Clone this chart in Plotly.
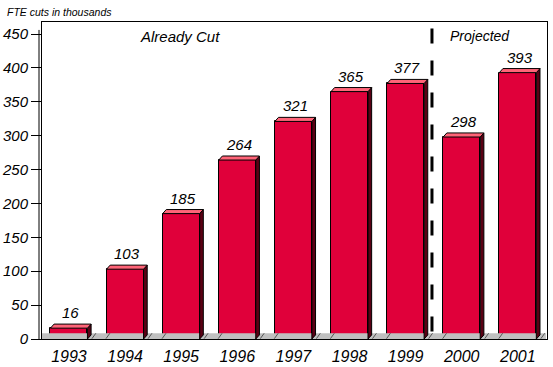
import plotly.graph_objects as go

years = ["1993", "1994", "1995", "1996", "1997", "1998", "1999", "2000", "2001"]
fte_cuts = [16, 103, 185, 264, 321, 365, 377, 298, 393]
y_ticks = [0, 50, 100, 150, 200, 250, 300, 350, 400, 450]

RED = "#E0003A"
TOP = "#FF6478"
SIDE = "#5A0014"
FONT = "Liberation Sans Narrow, Liberation Sans, Arial, sans-serif"

W = 0.66      # bar width (category units)
DX = 0.065    # 3D depth in x (category units)
DY = 6.0      # 3D depth in y (value units)

xs = list(range(len(years)))

fig = go.Figure()

# floor
fx = [-0.48, 8.5, 8.5, -0.48, -0.48]
fy = [0, 0, 8.5, 8.5, 0]
fig.add_trace(go.Scatter(x=fx, y=fy, fill="toself", fillcolor="#C0C0C0",
                         mode="lines", line=dict(color="#C0C0C0", width=0),
                         hoverinfo="skip", showlegend=False))
# floor slash marks
sx, sy = [], []
for c in xs:
    for off in (W / 2 + 0.13, W / 2 + 0.38):
        if c + off < 8.5:
            sx += [c + off - 0.05, c + off + 0.02, None]
            sy += [0.5, 8.5, None]
fig.add_trace(go.Scatter(x=sx, y=sy, mode="lines", line=dict(color="#555555", width=1),
                         hoverinfo="skip", showlegend=False))

# front faces
fig.add_trace(go.Bar(x=xs, y=fte_cuts, width=W, marker=dict(color=RED, line=dict(color="black", width=1)),
                     hoverinfo="skip", showlegend=False))

# side faces and top faces
side_x, side_y, top_x, top_y = [], [], [], []
for c, v in zip(xs, fte_cuts):
    l, r = c - W / 2, c + W / 2
    side_x += [r, r, r + DX, r + DX, r, None]
    side_y += [0, v, v + DY, DY, 0, None]
    top_x += [l, l + DX, r + DX, r, l, None]
    top_y += [v, v + DY, v + DY, v, v, None]
fig.add_trace(go.Scatter(x=side_x, y=side_y, fill="toself", fillcolor=SIDE, mode="lines",
                         line=dict(color="black", width=1), hoverinfo="skip", showlegend=False))
fig.add_trace(go.Scatter(x=top_x, y=top_y, fill="toself", fillcolor=TOP, mode="lines",
                         line=dict(color="black", width=1), hoverinfo="skip", showlegend=False))

# value labels
for c, v in zip(xs, fte_cuts):
    fig.add_annotation(x=c + DX / 2, y=v + DY, text=str(v), showarrow=False,
                       yanchor="bottom", yshift=1,
                       font=dict(family=FONT, size=15, color="black", style="italic"))

# divider
fig.add_shape(type="line", x0=6.47, x1=6.47, y0=458, y1=9,
              line=dict(color="black", width=3, dash="15px,17px"))

fig.add_annotation(x=1.98, y=446, text="Already Cut", showarrow=False,
                   font=dict(family=FONT, size=15, color="black", style="italic"))
fig.add_annotation(x=7.32, y=447, text="Projected", showarrow=False,
                   font=dict(family=FONT, size=14, color="black", style="italic"))
fig.add_annotation(xref="paper", yref="paper", x=-37 / 505, y=1, yshift=10,
                   xanchor="left", yanchor="middle", text="FTE cuts in thousands",
                   showarrow=False, font=dict(family=FONT, size=10.5, color="black", style="italic"))

# outer y-axis line (double line look)
fig.add_shape(type="line", xref="paper", yref="paper", x0=-3 / 505, x1=-3 / 505, y0=0, y1=0.975,
              line=dict(color="black", width=1))

fig.update_layout(
    width=553, height=367,
    margin=dict(l=42, r=6, t=22, b=28),
    paper_bgcolor="white", plot_bgcolor="white",
    bargap=0,
    xaxis=dict(range=[-0.48, 8.52], tickvals=xs, ticktext=years, showgrid=False, zeroline=False,
               showline=True, linecolor="black", mirror=True, ticks="outside", ticklen=3,
               tickcolor="rgba(0,0,0,0)", automargin=False,
               tickfont=dict(family=FONT, size=16, color="black", style="italic")),
    yaxis=dict(range=[0, 467.7], tickvals=y_ticks, showgrid=False, zeroline=False,
               showline=True, linecolor="black", mirror=True, ticks="outside", ticklen=10,
               tickcolor="black", tickwidth=1, automargin=False,
               tickfont=dict(family=FONT, size=15, color="black", style="italic")),
)

fig.write_html("out.html", config={"displayModeBar": False},
               post_script="document.body.style.margin='0';document.body.style.overflow='hidden';")
